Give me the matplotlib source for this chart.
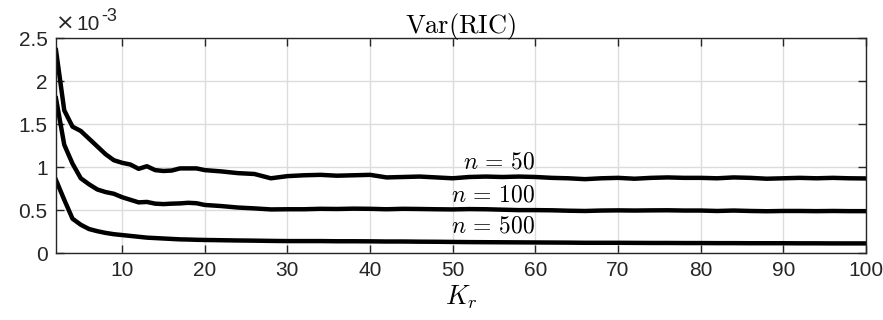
import matplotlib
matplotlib.use('Agg')
import matplotlib.pyplot as plt

plt.rcParams['font.family'] = ['Liberation Sans', 'DejaVu Sans']
plt.rcParams['mathtext.fontset'] = 'cm'

# number of retained components
K = [2, 3, 4, 5, 6, 7, 8, 9, 10, 11, 12, 13, 14, 15, 16, 17, 18, 19, 20,
     22, 24, 26, 28, 30, 32, 34, 36, 38, 40, 42, 44, 46, 48, 50, 52, 54, 56,
     58, 60, 62, 64, 66, 68, 70, 72, 74, 76, 78, 80, 82, 84, 86, 88, 90, 92,
     94, 96, 98, 100]

# variance of RIC (x 1e-3)
var_n50 = [2.36, 1.66, 1.47, 1.42, 1.33, 1.24, 1.15, 1.08, 1.05, 1.03, 0.98,
           1.01, 0.965, 0.955, 0.96, 0.985, 0.985, 0.985, 0.965, 0.95, 0.93,
           0.92, 0.87, 0.895, 0.905, 0.91, 0.90, 0.905, 0.91, 0.88, 0.885,
           0.89, 0.88, 0.87, 0.885, 0.89, 0.885, 0.89, 0.885, 0.875, 0.87,
           0.86, 0.87, 0.875, 0.865, 0.875, 0.88, 0.875, 0.875, 0.87, 0.88,
           0.875, 0.865, 0.87, 0.875, 0.87, 0.875, 0.87, 0.868]
var_n100 = [1.80, 1.26, 1.04, 0.87, 0.80, 0.74, 0.71, 0.69, 0.65, 0.62, 0.59,
            0.595, 0.575, 0.57, 0.575, 0.578, 0.585, 0.58, 0.56, 0.547, 0.53,
            0.52, 0.508, 0.51, 0.51, 0.515, 0.513, 0.517, 0.515, 0.51, 0.515,
            0.513, 0.51, 0.508, 0.512, 0.51, 0.505, 0.50, 0.50, 0.498, 0.493,
            0.49, 0.495, 0.497, 0.495, 0.497, 0.498, 0.495, 0.495, 0.49,
            0.495, 0.49, 0.487, 0.49, 0.49, 0.488, 0.49, 0.488, 0.488]
var_n500 = [0.85, 0.62, 0.40, 0.33, 0.28, 0.255, 0.235, 0.22, 0.21, 0.20,
            0.19, 0.18, 0.175, 0.17, 0.165, 0.16, 0.158, 0.155, 0.153, 0.15,
            0.147, 0.145, 0.142, 0.14, 0.14, 0.14, 0.138, 0.138, 0.137, 0.135,
            0.135, 0.133, 0.132, 0.13, 0.128, 0.127, 0.126, 0.125, 0.124,
            0.123, 0.122, 0.12, 0.12, 0.12, 0.119, 0.118, 0.118, 0.117, 0.117,
            0.116, 0.116, 0.115, 0.115, 0.115, 0.114, 0.114, 0.113, 0.113,
            0.113]

labels = [r'$n\,=\,50$', r'$n\,=\,100$', r'$n\,=\,500$']
label_y = [1.05, 0.675, 0.315]

fig = plt.figure(figsize=(8.83, 3.2), dpi=100)
ax = fig.add_axes([0.0634, 0.209, 0.9173, 0.672])

for v in (var_n50, var_n100, var_n500):
    ax.plot(K, v, color='black', lw=3.2, solid_joinstyle='round')

for lab, y in zip(labels, label_y):
    ax.text(60, y, lab, ha='right', va='center', fontsize=17)

ax.set_xlim(2, 100)
ax.set_ylim(0, 2.5)
ax.set_xticks(range(10, 101, 10))
ax.set_yticks([0, 0.5, 1, 1.5, 2, 2.5])
ax.set_yticklabels(['0', '0.5', '1', '1.5', '2', '2.5'])
ax.grid(True, color='#dcdcdc', lw=1.0)
ax.set_axisbelow(True)
ax.tick_params(direction='in', length=6, width=1, top=True, right=True,
               labelsize=15, colors='#262626', pad=6)
for s in ax.spines.values():
    s.set_color('#262626')
    s.set_linewidth(1.0)

ax.set_title(r'$\mathrm{Var}(\mathrm{RIC})$', fontsize=19, pad=4)
ax.set_xlabel(r'$K_r$', fontsize=19, labelpad=2)

# exponent label, MATLAB style
tx = ax.text(0.0, 1.02, '\u00d7', transform=ax.transAxes, family='DejaVu Sans',
             fontsize=16, color='#262626', ha='left', va='bottom')
t = ax.annotate('10', xy=(1, 0), xycoords=tx, xytext=(1, 0),
                textcoords='offset points', fontsize=15, color='#262626',
                ha='left', va='bottom')
ax.annotate('-3', xy=(1, 0.45), xycoords=t, xytext=(1, 0),
            textcoords='offset points', fontsize=13, color='#262626',
            ha='left', va='bottom')

fig.savefig('out.png', dpi=100)
